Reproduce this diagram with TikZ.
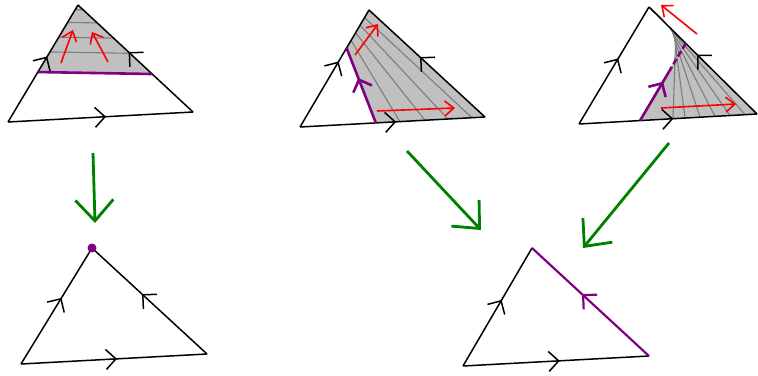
\documentclass[tikz,border=0pt]{standalone}
\usetikzlibrary{arrows.meta,decorations.markings,calc}
\definecolor{purp}{RGB}{128,0,128}
\definecolor{grn}{RGB}{0,128,0}
\definecolor{shadegray}{RGB}{192,192,192}
\definecolor{gline}{RGB}{125,125,125}
\tikzset{
  edge/.style={line width=1.5pt, black},
  purpline/.style={line width=2.6pt, purp},
  grayline/.style={line width=1.1pt, gline},
  redarrow/.style={line width=1.6pt, red, -{Straight Barb[length=9pt,width=15pt]}},
  greenarrow/.style={line width=2.8pt, grn, -{Straight Barb[length=21pt,width=38pt]}},
  chev/.style={postaction={decorate}, decoration={markings,
     mark=at position #1 with {\arrow{Straight Barb[length=10pt,width=20pt]}}}},
}
\begin{document}
\begin{tikzpicture}[x=1pt,y=-1pt]
\useasboundingbox (0,0) rectangle (758,375);
% ---------------- panel 1 ----------------
\coordinate (a1) at (78,5);
\coordinate (b1) at (8,122);
\coordinate (c1) at (193,112);
\coordinate (p1l) at ($(b1)!0.427!(a1)$);
\coordinate (p1r) at ($(c1)!0.355!(a1)$);
\fill[shadegray] (p1l) -- (a1) -- (p1r) -- cycle;
\foreach \s in {0.3,0.52,0.74,0.93}
  \draw[grayline] ($(p1l)!\s!(a1)$) -- ($(p1r)!\s!(a1)$);
\draw[edge, chev=0.56] (b1) -- (a1);
\draw[edge, chev=0.56] (c1) -- (a1);
\draw[edge, chev=0.53] (b1) -- (c1);
\draw[purpline] (p1l) -- (p1r);
\coordinate (r1s) at (61,63); \coordinate (r1e) at (73,30);
\coordinate (r2s) at (108,62); \coordinate (r2e) at (92,32);
\draw[redarrow] (r1s) -- (r1e);
\draw[redarrow] (r2s) -- (r2e);
% ---------------- panel 2 ----------------
\coordinate (a2) at (369,10);
\coordinate (b2) at (300,127);
\coordinate (c2) at (485,117);
\coordinate (p2t) at ($(b2)!0.675!(a2)$);
\coordinate (p2b) at ($(b2)!0.41!(c2)$);
\fill[shadegray] (p2t) -- (a2) -- (c2) -- (p2b) -- cycle;
\foreach \s/\u in {0.2/0.22,0.4/0.45,0.6/0.66,0.8/0.88}
  \draw[grayline] ($(p2t)!\s!(a2)$) -- ($(p2b)!\u!(c2)$);
\draw[edge, chev=0.56] (b2) -- (a2);
\draw[edge, chev=0.56] (c2) -- (a2);
\draw[edge, chev=0.52] (b2) -- (c2);
\draw[purpline, chev=0.6] (p2b) -- (p2t);
\coordinate (r3s) at (355,55); \coordinate (r3e) at (378,24);
\coordinate (r4s) at (377,111); \coordinate (r4e) at (455,108);
\draw[redarrow] (r3s) -- (r3e);
\draw[redarrow] (r4s) -- (r4e);
% ---------------- panel 3 ----------------
\coordinate (a3) at (649,7);
\coordinate (b3) at (579,124);
\coordinate (c3) at (757,114);
\coordinate (p3b) at ($(b3)!0.343!(c3)$);
\coordinate (p3t) at ($(a3)!0.34!(c3)$);
\coordinate (p3m) at ($(p3b)!0.63!(p3t)$);
\fill[shadegray] (p3b) -- (p3m) .. controls (679,55) and (681,28) .. (a3) -- (c3) -- cycle;
\path (p3m) .. controls (679,55) and (681,28) .. (a3)
  coordinate[pos=0.42] (q1) coordinate[pos=0.47] (q2) coordinate[pos=0.52] (q3)
  coordinate[pos=0.57] (q4) coordinate[pos=0.62] (q5) coordinate[pos=0.67] (q6);
\foreach \q/\u in {q1/0.528,q2/0.596,q3/0.68,q4/0.764,q5/0.848,q6/0.933}
  \draw[grayline] (\q) -- ($(b3)!\u!(c3)$);
\draw[edge, chev=0.56] (b3) -- (a3);
\draw[edge, chev=0.555] (c3) -- (a3);
\draw[edge, chev=0.53] (b3) -- (c3);
\draw[purpline, chev=0.8] (p3b) -- (p3m);
\draw[purpline, dash pattern=on 6pt off 3pt] (p3m) -- (p3t);
\coordinate (r5s) at (697,34); \coordinate (r5e) at (661,5);
\coordinate (r6s) at (661,108); \coordinate (r6e) at (736,104);
\draw[redarrow] (r5s) -- (r5e);
\draw[redarrow] (r6s) -- (r6e);
% ---------------- bottom left ----------------
\coordinate (a4) at (92,248);
\coordinate (b4) at (21,364);
\coordinate (c4) at (207,354);
\draw[edge, chev=0.57] (b4) -- (a4);
\draw[edge, chev=0.565] (c4) -- (a4);
\draw[edge, chev=0.516] (b4) -- (c4);
\fill[purp] (a4) circle (4.5);
% ---------------- bottom right ----------------
\coordinate (a5) at (532,248);
\coordinate (b5) at (463,366);
\coordinate (c5) at (649,356);
\draw[edge, chev=0.56] (b5) -- (a5);
\draw[edge, chev=0.52] (b5) -- (c5);
\draw[line width=2.2pt, purp, chev=0.573] (c5) -- (a5);
% ---------------- green arrows ----------------
\coordinate (g1s) at (93,153); \coordinate (g1e) at (95,223);
\coordinate (g2s) at (407,151); \coordinate (g2e) at (481,230);
\coordinate (g3s) at (669,143); \coordinate (g3e) at (583,248);
\draw[greenarrow] (g1s) -- (g1e);
\draw[greenarrow] (g2s) -- (g2e);
\draw[greenarrow] (g3s) -- (g3e);
\end{tikzpicture}
\end{document}
